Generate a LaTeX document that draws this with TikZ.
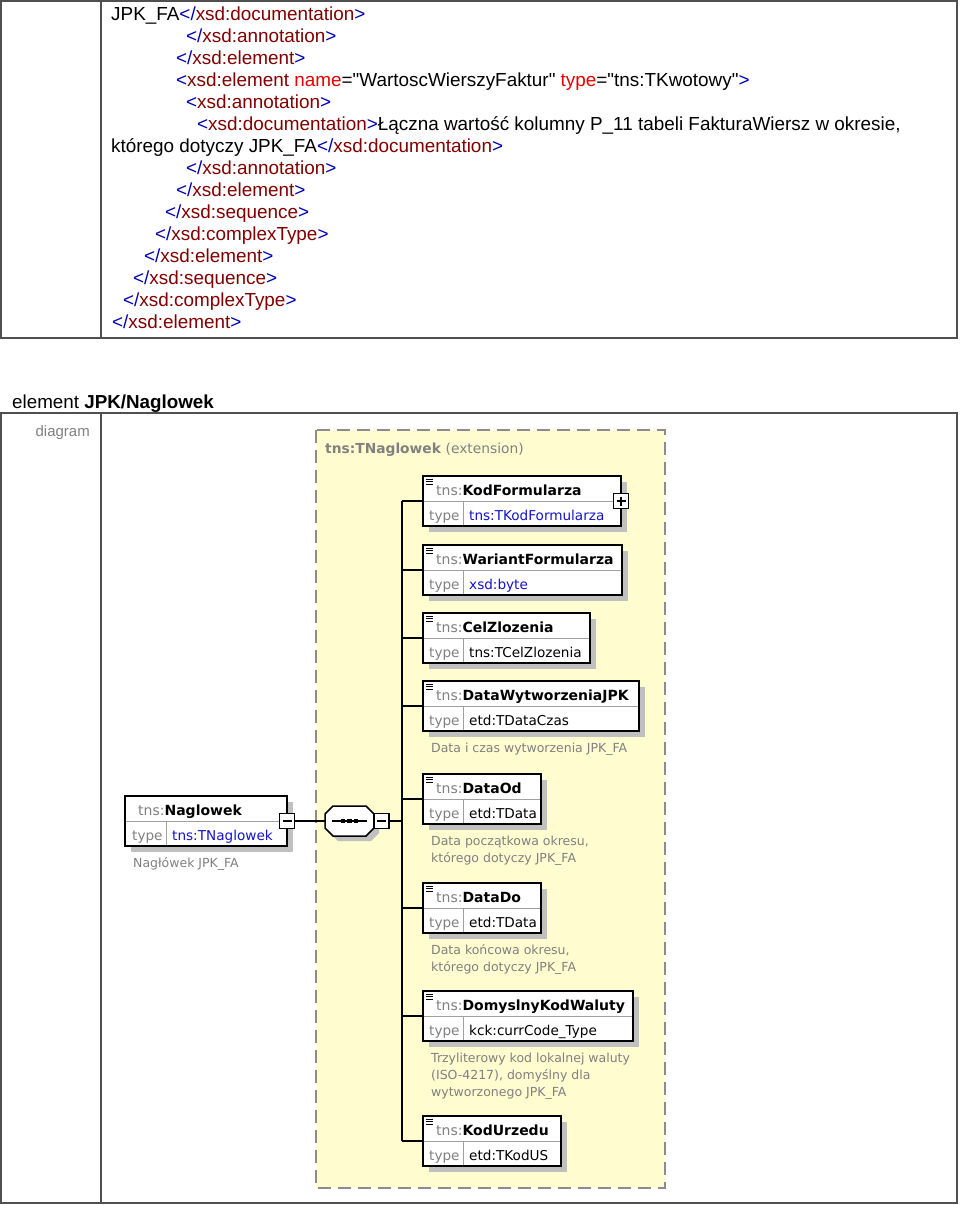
\documentclass[tikz,border=0pt]{standalone}
\usepackage{fontspec}
\setmainfont{Liberation Sans}[Ligatures=TeXOff]
\newfontfamily\dfont{DejaVu Sans}
\usetikzlibrary{calc}
\definecolor{tagblue}{RGB}{0,0,180}
\definecolor{tagname}{RGB}{128,0,0}
\definecolor{attrred}{RGB}{230,0,0}
\definecolor{bordergray}{RGB}{80,80,80}
\definecolor{labgray}{RGB}{128,128,128}
\definecolor{ylw}{RGB}{255,253,208}
\definecolor{shadowgray}{RGB}{192,192,192}
\definecolor{divcol}{RGB}{160,160,160}
\definecolor{typeblue}{RGB}{20,20,200}
\definecolor{dashgray}{RGB}{140,140,140}
\newcommand\tb[1]{\textcolor{tagblue}{#1}}
\newcommand\tn[1]{\textcolor{tagname}{#1}}
\newcommand\xop[1]{\tb{<}\tn{#1}\tb{>}}
\newcommand\xcl[1]{\tb{</}\tn{#1}\tb{>}}
% #1 name, #2 x, #3 y, #4 width, #5 element name, #6 type, #7 type colour
\newcommand\elembox[7]{%
  \fill[shadowgray] (#2+6,#3+6) rectangle (#2+#4+6,#3+56);
  \node[ebox, minimum width=#4pt, minimum height=50pt, anchor=north west] (#1) at (#2,#3) {};
  \draw[divgray] (#1.west) -- (#1.east);
  \draw[divgray] ($(#1.south west)+(40,0)$) -- ($(#1.west)+(40,0)$);
  \draw[boxline] (#1.south west) rectangle (#1.north east);
  \node[hdr] (#1h) at ($(#1.north west)+(13,19)$) {\textcolor{labgray}{tns:}\textbf{#5}};
  \node[typ, text=labgray] (#1t) at ($(#1.north west)+(6,44)$) {type};
  \node[typ, text=#7] (#1v) at ($(#1.north west)+(46,44)$) {#6};
}
\newcommand\elicon[1]{%
  \foreach \d in {3,5.5,8} \draw[line width=0.9pt] ($(#1.north west)+(3,\d)$) -- ++(7,0);
}
% #1 name, #2 text
\newcommand\eldesc[2]{%
  \node[dsc] (#1d) at ($(#1.south west)+(8,21)$) {\parbox[t]{300pt}{\raggedright #2}};
}
\newcommand\octa[3]{%
  \draw[#3] (#1-16.5,#2-15) -- (#1+16.5,#2-15) -- (#1+24.5,#2-7) -- (#1+24.5,#2+7)
    -- (#1+16.5,#2+15) -- (#1-16.5,#2+15) -- (#1-24.5,#2+7) -- (#1-24.5,#2-7) -- cycle;}
\begin{document}
\begin{tikzpicture}[x=1pt,y=-1pt,
  xml/.style={anchor=base west, inner sep=0pt, font=\fontsize{18.9}{22}\selectfont},
  ebox/.style={draw=black, line width=1.6pt, fill=white, inner sep=0pt, outer sep=0pt},
  boxline/.style={draw=black, line width=1.6pt},
  divgray/.style={draw=divcol, line width=1pt},
  hdr/.style={anchor=base west, inner sep=0pt, font=\dfont\fontsize{14}{16}\selectfont},
  typ/.style={anchor=base west, inner sep=0pt, font=\dfont\fontsize{13.6}{16}\selectfont},
  dsc/.style={anchor=base west, inner sep=0pt, text=labgray, font=\dfont\fontsize{12.5}{17}\selectfont},
  conn/.style={draw=black, line width=1.5pt},
  pmbox/.style={draw=black, fill=white, line width=1.5pt, minimum size=15pt, inner sep=0pt, outer sep=0pt},
  tbl/.style={draw=bordergray, line width=1.5pt}]
\useasboundingbox (0,0) rectangle (960,1205);
% ---------- top table ----------
\draw[tbl] (1,1) rectangle (957,338);
\draw[tbl] (101,1) -- (101,338);
\node[xml] (l1) at (111,20) {JPK\_FA\xcl{xsd:documentation}};
\node[xml] (l2) at (186,42) {\xcl{xsd:annotation}};
\node[xml] (l3) at (176,64) {\xcl{xsd:element}};
\node[xml] (l4) at (176,86) {\tb{<}\tn{xsd:element} \textcolor{attrred}{name}="WartoscWierszyFaktur" \textcolor{attrred}{type}="tns:TKwotowy"\tb{>}};
\node[xml] (l5) at (186,108) {\xop{xsd:annotation}};
\node[xml] (l6) at (197,130) {\xop{xsd:documentation}Łączna wartość kolumny P\_11 tabeli FakturaWiersz w okresie,};
\node[xml] (l7) at (111,152) {którego dotyczy JPK\_FA\xcl{xsd:documentation}};
\node[xml] (l8) at (186,174) {\xcl{xsd:annotation}};
\node[xml] (l9) at (176,196) {\xcl{xsd:element}};
\node[xml] (l10) at (165,218) {\xcl{xsd:sequence}};
\node[xml] (l11) at (155,240) {\xcl{xsd:complexType}};
\node[xml] (l12) at (144,262) {\xcl{xsd:element}};
\node[xml] (l13) at (133,284) {\xcl{xsd:sequence}};
\node[xml] (l14) at (123,306) {\xcl{xsd:complexType}};
\node[xml] (l15) at (112,328) {\xcl{xsd:element}};
% ---------- heading ----------
\node[xml, font=\fontsize{18.8}{22}\selectfont] (head) at (12,408) {element \textbf{JPK/Naglowek}};
% ---------- bottom table ----------
\draw[tbl] (1,413) rectangle (957,1203);
\draw[tbl] (101,413) -- (101,1203);
\node[anchor=base east, inner sep=0pt, text=labgray, font=\fontsize{15}{18}\selectfont] (diag) at (90,436) {diagram};
% ---------- diagram ----------
\fill[ylw] (316,430) rectangle (665,1188);
\draw[draw=dashgray, line width=2pt, dash pattern=on 13pt off 7pt] (316,430) rectangle (665,1188);
\node[anchor=base west, inner sep=0pt, text=labgray, font=\dfont\fontsize{13.8}{16}\selectfont] (ttl) at (325,453) {\textbf{tns:TNaglowek} (extension)};
\coordinate (bus) at (402,0);
% root element
\fill[shadowgray] (131,802) rectangle (293,852);
\node[ebox, minimum width=162pt, minimum height=50pt, anchor=north west] (nag) at (125,796) {};
\draw[divgray] (nag.west) -- (nag.east);
\draw[divgray] ($(nag.south west)+(41,0)$) -- ($(nag.west)+(41,0)$);
\draw[boxline] (nag.south west) rectangle (nag.north east);
\node[hdr] (nagh) at ($(nag.north west)+(13,19)$) {\textcolor{labgray}{tns:}\textbf{Naglowek}};
\node[typ, text=labgray] (nagt) at ($(nag.north west)+(7,44)$) {type};
\node[typ, text=typeblue] (nagv) at ($(nag.north west)+(47,44)$) {tns:TNaglowek};
\node[dsc] (nagd) at ($(nag.south west)+(8,21)$) {Nagłówek JPK\_FA};
\node[pmbox] (nm) at (nag.east) {};
\draw[line width=1.4pt] ($(nm.west)+(3,0)$) -- ($(nm.east)+(-3,0)$);
% sequence compositor
\node[inner sep=0pt, outer sep=0pt, minimum width=49pt, minimum height=30pt] (seq) at (349.5,821) {};
\draw[conn] (nm.east) -- (seq.west);
\octa{354.5}{826}{fill=shadowgray, draw=none}
\octa{349.5}{821}{fill=white, draw=black, line width=1.5pt}
\draw[line width=1.3pt] ($(seq.west)+(7,0)$) -- ($(seq.east)+(-7,0)$);
\foreach \dx in {-6.5,0,6.5} \fill ($(seq.center)+(\dx-2.3,-2.3)$) rectangle ++(4.6,4.6);
\node[pmbox, anchor=west] (sm) at (seq.east) {};
\draw[line width=1.4pt] ($(sm.west)+(3,0)$) -- ($(sm.east)+(-3,0)$);
% children
\elembox{kod}{423}{476}{198}{KodFormularza}{tns:TKodFormularza}{typeblue}
\elicon{kod}
\elembox{war}{423}{545}{199}{WariantFormularza}{xsd:byte}{typeblue}
\elicon{war}
\elembox{cel}{423}{613}{167}{CelZlozenia}{tns:TCelZlozenia}{black}
\elicon{cel}
\elembox{dwt}{423}{681}{216}{DataWytworzeniaJPK}{etd:TDataCzas}{black}
\elicon{dwt}
\eldesc{dwt}{Data i czas wytworzenia JPK\_FA}
\elembox{dod}{423}{774}{118}{DataOd}{etd:TData}{black}
\elicon{dod}
\eldesc{dod}{Data początkowa okresu,\\którego dotyczy JPK\_FA}
\elembox{ddo}{423}{883}{118}{DataDo}{etd:TData}{black}
\elicon{ddo}
\eldesc{ddo}{Data końcowa okresu,\\którego dotyczy JPK\_FA}
\elembox{dkw}{423}{991}{210}{DomyslnyKodWaluty}{kck:currCode\_Type}{black}
\elicon{dkw}
\eldesc{dkw}{Trzyliterowy kod lokalnej waluty\\(ISO-4217), domyślny dla\\wytworzonego JPK\_FA}
\elembox{kodu}{423}{1116}{138}{KodUrzedu}{etd:TKodUS}{black}
\elicon{kodu}
% plus box on KodFormularza
\node[pmbox] (kp) at (kod.east) {};
\draw[line width=1.4pt] ($(kp.west)+(3,0)$) -- ($(kp.east)+(-3,0)$);
\draw[line width=1.4pt] ($(kp.north)+(0,3)$) -- ($(kp.south)+(0,-3)$);
% connectors
\draw[conn] (sm.east) -- (bus |- sm.east);
\draw[conn] (bus |- kod.west) -- (bus |- kodu.west);
\foreach \n in {kod,war,cel,dwt,dod,ddo,dkw,kodu} \draw[conn] (bus |- \n.west) -- (\n.west);
\end{tikzpicture}
\end{document}
